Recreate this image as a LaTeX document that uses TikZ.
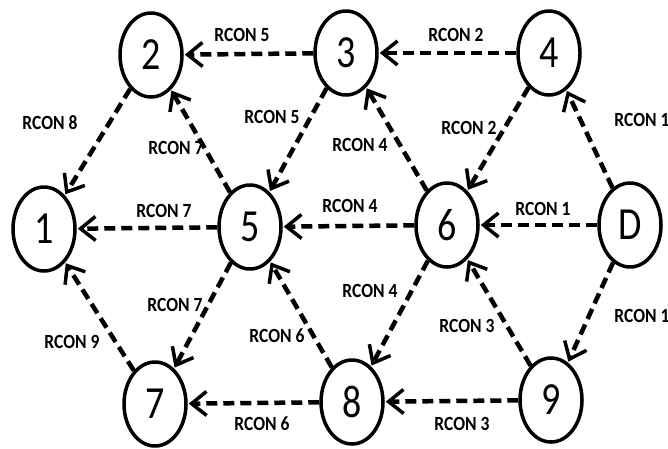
\documentclass[tikz,border=0pt]{standalone}
\usepackage{fontspec}
\setmainfont{Carlito}
\usetikzlibrary{shapes.geometric,arrows.meta}

\tikzset{
  state/.style={ellipse, draw=black, line width=3.5pt, fill=white,
    minimum width=62pt, minimum height=84pt, inner sep=0pt,
    font=\fontsize{40}{40}\selectfont},
  link/.style={line width=4.5pt, dash pattern=on 11pt off 6pt,
    -{Straight Barb[length=15pt,width=24pt,line width=3.5pt]}, shorten >=1pt},
  lbl/.style={font=\fontsize{17.5}{17.5}\selectfont\bfseries, inner sep=0pt}
}
\newcommand{\tallnum}[1]{\scalebox{0.95}[1.15]{#1}}
\newcommand{\tallrc}[1]{\scalebox{1}[1.15]{RCON #1}}

\begin{document}
\begin{tikzpicture}[x=1pt,y=-1pt]
  \useasboundingbox (0,0) rectangle (668,448);

  % routers
  \node[state] (n1) at (44,229) {\tallnum{1}};
  \node[state] (n2) at (151,55) {\tallnum{2}};
  \node[state] (n3) at (346,53) {\tallnum{3}};
  \node[state] (n4) at (549,53) {\tallnum{4}};
  \node[state] (n5) at (250,227) {\tallnum{5}};
  \node[state] (n6) at (447,225) {\tallnum{6}};
  \node[state] (nD) at (630,225) {\tallnum{D}};
  \node[state] (n7) at (155,404) {\tallnum{7}};
  \node[state] (n8) at (352,402) {\tallnum{8}};
  \node[state] (n9) at (551,400) {\tallnum{9}};

  % links
  \draw[link] (n3) -- (n2);
  \draw[link] (n4) -- (n3);
  \draw[link] (n2) -- (n1);
  \draw[link] (n5) -- (n2);
  \draw[link] (n3) -- (n5);
  \draw[link] (n6) -- (n3);
  \draw[link] (n4) -- (n6);
  \draw[link] (nD) -- (n4);
  \draw[link] (n5) -- (n1);
  \draw[link] (n6) -- (n5);
  \draw[link] (nD) -- (n6);
  \draw[link] (n5) -- (n7);
  \draw[link] (n7) -- (n1);
  \draw[link] (n8) -- (n5);
  \draw[link] (n6) -- (n8);
  \draw[link] (n9) -- (n6);
  \draw[link] (nD) -- (n9);
  \draw[link] (n8) -- (n7);
  \draw[link] (n9) -- (n8);

  % link labels
  \node[lbl] (l32) at (242,35) {\tallrc{5}};
  \node[lbl] (l43) at (456,35) {\tallrc{2}};
  \node[lbl] (l21) at (50,123) {\tallrc{8}};
  \node[lbl] (l52) at (176,148) {\tallrc{7}};
  \node[lbl] (l35) at (272,117) {\tallrc{5}};
  \node[lbl] (l63) at (360,145) {\tallrc{4}};
  \node[lbl] (l46) at (469,128) {\tallrc{2}};
  \node[lbl] (lD4) at (642,120) {\tallrc{1}};
  \node[lbl] (l51) at (164,211) {\tallrc{7}};
  \node[lbl] (l65) at (350,206) {\tallrc{4}};
  \node[lbl] (lD6) at (543,209) {\tallrc{1}};
  \node[lbl] (l57) at (175,305) {\tallrc{7}};
  \node[lbl] (l71) at (72,342) {\tallrc{9}};
  \node[lbl] (l85) at (277,336) {\tallrc{6}};
  \node[lbl] (l68) at (370,291) {\tallrc{4}};
  \node[lbl] (l96) at (467,326) {\tallrc{3}};
  \node[lbl] (lD9) at (642,316) {\tallrc{1}};
  \node[lbl] (l87) at (262,424) {\tallrc{6}};
  \node[lbl] (l98) at (462,424) {\tallrc{3}};
\end{tikzpicture}
\end{document}
